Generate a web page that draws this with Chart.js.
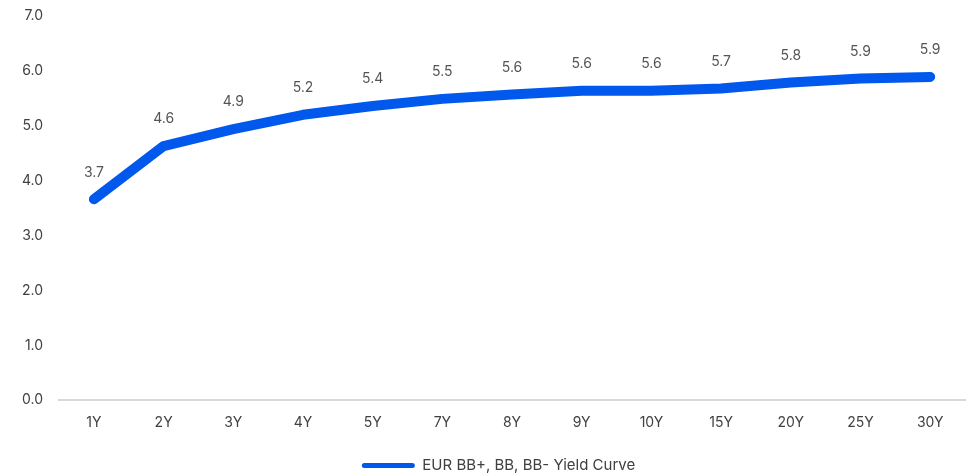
<!DOCTYPE html>
<html>
<head>
<meta charset="utf-8">
<script src="https://cdn.jsdelivr.net/npm/chart.js@4/dist/chart.umd.min.js"></script>
<style>
  html, body { margin: 0; padding: 0; background: #fff; }
  #wrap { width: 973px; height: 476px; position: relative; }
</style>
</head>
<body>
<div id="wrap"><canvas id="yieldChart"></canvas></div>
<script>
const tenors = ['1Y', '2Y', '3Y', '4Y', '5Y', '7Y', '8Y', '9Y', '10Y', '15Y', '20Y', '25Y', '30Y'];
const yields = [3.66, 4.63, 4.94, 5.20, 5.36, 5.49, 5.57, 5.64, 5.64, 5.68, 5.79, 5.86, 5.89];
const seriesName = 'EUR BB+, BB, BB- Yield Curve';
const lineColor = '#0058ec';
const fontFamily = 'Inter, "Noto Sans", sans-serif';

// draws the value above each point
const pointLabels = {
  id: 'pointLabels',
  afterDatasetsDraw(chart) {
    const ctx = chart.ctx;
    const meta = chart.getDatasetMeta(0);
    ctx.save();
    ctx.font = '14px ' + fontFamily;
    ctx.fillStyle = '#555555';
    ctx.textAlign = 'center';
    ctx.textBaseline = 'middle';
    meta.data.forEach((pt, i) => {
      ctx.fillText(yields[i].toFixed(1), pt.x, pt.y - 27);
    });
    ctx.restore();
  }
};

// nudge the legend a bit right, like the original
const legendShift = {
  id: 'legendShift',
  afterLayout(chart) {
    if (chart.legend) chart.legend.left += 26;
  }
};

const ctx = document.getElementById('yieldChart');
new Chart(ctx, {
  type: 'line',
  data: {
    labels: tenors,
    datasets: [{
      label: seriesName,
      data: yields,
      borderColor: lineColor,
      backgroundColor: lineColor,
      borderWidth: 10,
      borderCapStyle: 'round',
      borderJoinStyle: 'round',
      pointRadius: 0,
      tension: 0,
    }],
  },
  options: {
    responsive: true,
    maintainAspectRatio: false,
    animation: false,
    layout: { padding: { top: 16, right: 8, left: 6, bottom: -7 } },
    scales: {
      x: {
        offset: true,
        grid: { display: false, drawTicks: false },
        border: { display: true, color: '#d9d9d9', width: 2 },
        ticks: { color: '#404040', font: { size: 14, family: fontFamily }, padding: 14 },
        afterFit: (scale) => { scale.height += 6; },
      },
      y: {
        min: 0,
        max: 7,
        grid: { display: false, drawTicks: false },
        border: { display: false },
        ticks: {
          stepSize: 1,
          color: '#404040',
          padding: 16,
          font: { size: 14, family: fontFamily },
          callback: (v) => v.toFixed(1),
        },
        afterFit: (scale) => { scale.paddingTop = 0; },
      },
    },
    plugins: {
      legend: {
        position: 'bottom',
        labels: {
          color: '#404040',
          font: { size: 15, family: fontFamily },
          boxWidth: 53,
          boxHeight: 5,
          useBorderRadius: true,
          borderRadius: 2.5,
          padding: 7,
          generateLabels: (chart) => {
            const items = Chart.defaults.plugins.legend.labels.generateLabels(chart);
            items.forEach((it) => { it.lineWidth = 0; it.strokeStyle = 'transparent'; });
            return items;
          },
        },
      },
      tooltip: { enabled: false },
    },
  },
  plugins: [pointLabels, legendShift],
});
</script>
</body>
</html>
